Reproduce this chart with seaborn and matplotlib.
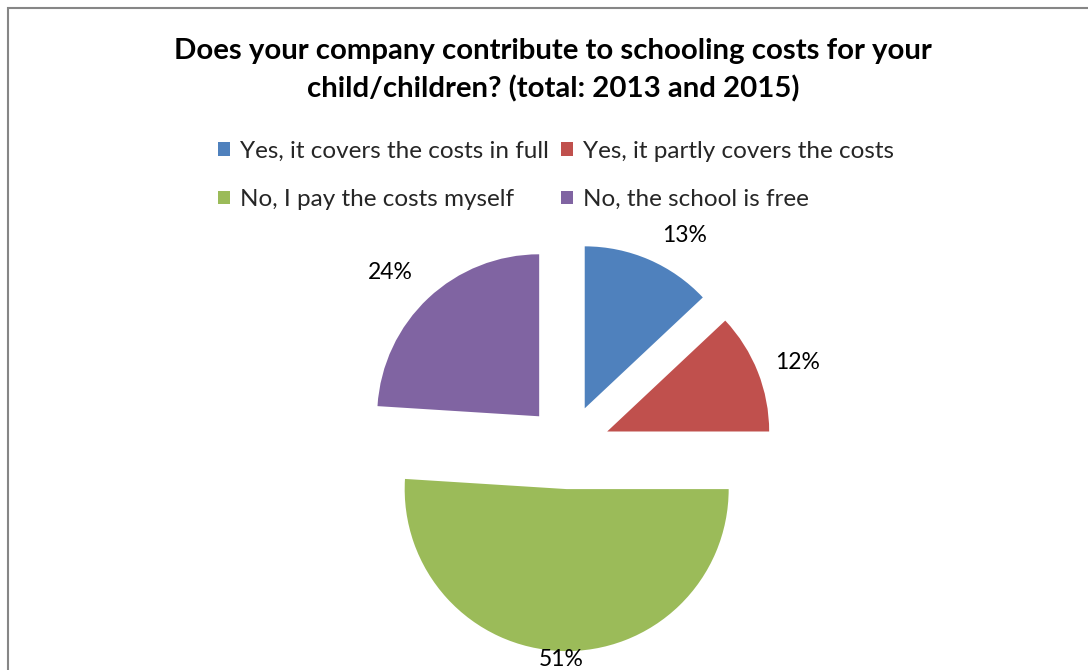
import numpy as np
import matplotlib
matplotlib.use("Agg")
import matplotlib.pyplot as plt
from matplotlib.patches import Rectangle
import seaborn as sns

# Survey answers and their shares (%)
categories = [
    "Yes, it covers the costs in full",
    "Yes, it partly covers the costs",
    "No, I pay the costs myself",
    "No, the school is free",
]
shares = [13, 12, 51, 24]
colors = ["#4F81BD", "#C0504D", "#9BBB59", "#8064A2"]
title = "Does your company contribute to schooling costs for your\nchild/children? (total: 2013 and 2015)"

# Placement of each percentage label relative to its wedge's tip:
# distance (in radii) and a small angular nudge (degrees, clockwise)
label_dist = [1.235, 1.25, 1.05, 1.275]
label_nudge = [6.6, 1.6, 0.0, -2.8]

sns.set_theme(style="white")
plt.rcParams["font.family"] = ["Lato", "DejaVu Sans"]

W, H = 1088, 670
fig = plt.figure(figsize=(W / 100, H / 100), dpi=100)
fig.patch.set_facecolor("white")

# Chart frame (extends past the right and bottom edges)
fig.add_artist(Rectangle((8 / W, -0.05), 1.2, (H - 8) / H + 0.05,
                         transform=fig.transFigure, fill=False,
                         edgecolor="#868686", linewidth=1.5))

# Pie axes: centre at (568, 447) px, radius 162 px
R = 162
cx, cy = 568, 447
aw, ah = 600, 440
ax = fig.add_axes([(cx - aw / 2) / W, (H - cy - ah / 2) / H, aw / W, ah / H])

wedges, _ = ax.pie(shares, colors=colors, startangle=90, counterclock=False,
                   explode=[0.26] * len(shares),
                   wedgeprops=dict(linewidth=0))
ax.set_xlim(-aw / 2 / R, aw / 2 / R)
ax.set_ylim(-ah / 2 / R, ah / 2 / R)
ax.set_aspect("equal")
ax.axis("off")

for w, val, d, nud in zip(wedges, shares, label_dist, label_nudge):
    mid = np.deg2rad((w.theta1 + w.theta2) / 2 - nud)
    x0, y0 = w.center
    ax.text(x0 + d * np.cos(mid), y0 + d * np.sin(mid), f"{val}%",
            ha="center", va="center", fontsize=16.5, color="black",
            clip_on=False)

fig.text(553 / W, 1 - 70 / H, title, ha="center", va="center",
         fontsize=21.2, fontweight="bold", linespacing=1.52, color="black")

order = [0, 2, 1, 3]
leg = fig.legend([wedges[i] for i in order], [categories[i] for i in order],
                 ncol=2, loc="center", bbox_to_anchor=(556 / W, 1 - 175.5 / H),
                 frameon=False, fontsize=17.5, handlelength=0.5,
                 handleheight=0.5, handletextpad=0.4, columnspacing=0.5,
                 labelspacing=1.12)

fig.savefig("out.png", dpi=100, facecolor="white")
